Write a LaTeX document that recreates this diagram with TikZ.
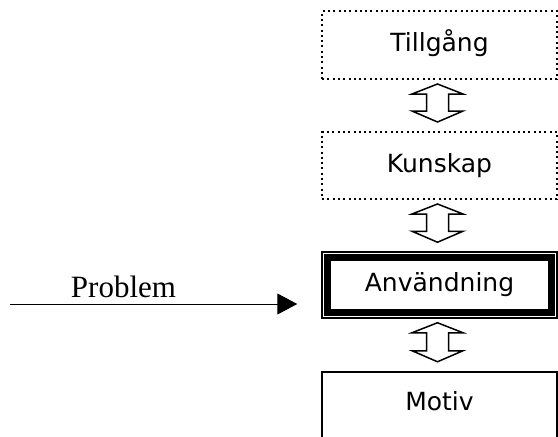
\documentclass[tikz,border=0pt]{standalone}
\usepackage{fontspec}
\setmainfont{DejaVu Sans}
\newfontfamily\serifface{Liberation Serif}
\usetikzlibrary{arrows.meta,calc}

% up-down block arrow between two stacked boxes
\newcommand\blockconn[2]{%
  \coordinate (#1-tip) at ($(#1.south)+(-2,4)$);
  \coordinate (#2-tip) at ($(#2.north)+(-2,-9)$);
  \draw[blockarrow] (#1-tip) -- ($(#1-tip)+(25.5,10)$) -- ($(#1-tip)+(11,10)$)
    -- ($(#2-tip)+(11,-11)$) -- ($(#2-tip)+(25.5,-11)$) -- (#2-tip)
    -- ($(#2-tip)+(-25.5,-11)$) -- ($(#2-tip)+(-11,-11)$)
    -- ($(#1-tip)+(-11,10)$) -- ($(#1-tip)+(-25.5,10)$) -- cycle;
}

\begin{document}
\begin{tikzpicture}[x=1pt,y=-1pt,
  box/.style={rectangle, minimum width=235pt, inner sep=0pt,
    font=\fontsize{25}{30}\selectfont, text height=18.5pt, text depth=5.5pt},
  dotbox/.style={box, draw, line width=2pt, dash pattern=on 2pt off 3.3pt},
  solidbox/.style={box, draw, line width=2.5pt},
  blockarrow/.style={draw, line width=1.5pt, line join=miter, fill=white},
  probarrow/.style={-{Triangle[length=20pt,width=21pt]}, line width=1pt}]
\useasboundingbox (0,0) rectangle (558,437);
\clip (0,0) rectangle (558,437);
\fill[white] (0,0) rectangle (558,437);

% boxes
\node[dotbox, minimum height=68pt] (till) at (439.5,45) {Tillgång};
\node[dotbox, minimum height=67pt] (kuns) at (439.5,165.5) {Kunskap};
\node[box, draw, line width=1.5pt, minimum height=66pt] (anv) at (439.5,285) {Användning};
\draw[line width=7pt] ($(anv.north west)+(6.25,6.25)$) rectangle ($(anv.south east)+(-6.25,-6.25)$);
\node[solidbox, minimum height=78pt, text depth=20.5pt] (mot) at (439.5,411) {Motiv};

% connectors
\blockconn{till}{kuns}
\blockconn{kuns}{anv}
\blockconn{anv}{mot}

% incoming problem arrow
\coordinate (pstart) at (10,304);
\coordinate (pend) at ($(anv.west |- pstart)+(-24,0)$);
\draw[probarrow] (pstart) -- (pend);
\node[font=\serifface\fontsize{31}{36}\selectfont, anchor=base, inner sep=0pt] (plabel) at (123.5,297) {Problem};
\end{tikzpicture}
\end{document}
